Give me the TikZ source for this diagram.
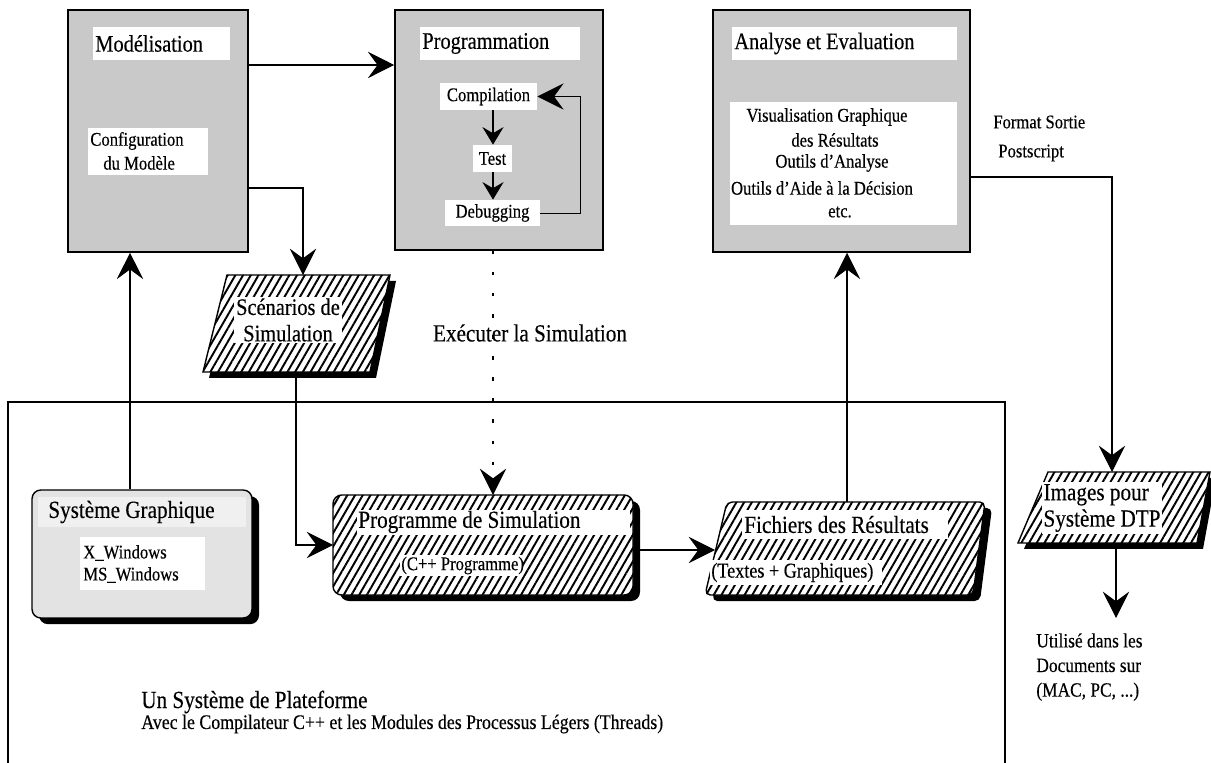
\documentclass[tikz,border=0pt]{standalone}
\usepackage{fontspec}
\setmainfont{Liberation Serif}[FakeStretch=0.86,FakeBold=0.3]
\usetikzlibrary{arrows.meta,patterns.meta,shadows}
\begin{document}
\begin{tikzpicture}[x=0.02cm,y=-0.02cm,
  f10/.style={font=\fontsize{11.8}{13}\selectfont, inner sep=0pt},
  f11/.style={font=\fontsize{11}{13}\selectfont, inner sep=0pt},
  f12/.style={font=\fontsize{12}{14}\selectfont, inner sep=0pt},
  f13/.style={font=\fontsize{13.5}{15}\selectfont, inner sep=0pt},
  f14/.style={font=\fontsize{14}{15}\selectfont, inner sep=0pt},
  gbox/.style={draw=black, line width=0.9pt, fill=gray!42, inner sep=0pt},
  wbox/.style={fill=white, inner sep=0pt, font=\fontsize{11}{13}\selectfont},
  shad/.style={drop shadow={opacity=1, fill=black, shadow xshift=4pt, shadow yshift=-3.5pt}},
  hatchfill/.style={draw=black, line width=0.8pt, preaction={fill=white}, pattern={Lines[angle=60,distance=3.8pt,line width=1.1pt]}},
  anch/.style={inner sep=0pt, outer sep=0pt},
  arr/.style={line width=0.6pt, -{Stealth[length=15pt,width=15pt,inset=5.5pt]}},
  sarr/.style={line width=0.6pt, -{Stealth[length=10pt,width=12pt,inset=3.5pt]}},
  dotarr/.style={line width=0.7pt, dash pattern=on 2pt off 10pt, -{Stealth[length=15pt,width=15pt,inset=5.5pt]}}
]
\useasboundingbox (0,0) rectangle (1211,763);

% helper coordinates
\coordinate (y65) at (0,65);
\coordinate (y188) at (0,188);
\coordinate (y177) at (0,177);
\coordinate (x130) at (130,0);
\coordinate (x296) at (296,0);
\coordinate (x303) at (303,0);
\coordinate (x493) at (493,0);
\coordinate (x580) at (580,0);
\coordinate (x847) at (847,0);
\coordinate (x1112) at (1112,0);
\coordinate (utiltip) at (1116,618);
\coordinate (fichL) at (715,550);

% platform frame
\draw[line width=0.7pt] (8,763) -- (8,402) -- (1005,402) -- (1005,763);

% Modelisation
\node[gbox, minimum width=3.6cm, minimum height=4.84cm] (mod) at (158,131) {};
\fill[white] (93,27) rectangle (230,60);
\node[f13, anchor=west] (modt) at (95,43.5) {Modélisation};
\fill[white] (88,128) rectangle (208,175);
\node[f11, anchor=west] (conf1) at (90,141) {Configuration};
\node[f11, anchor=west] (conf2) at (103,163) {du Modèle};

% Programmation
\node[gbox, minimum width=4.16cm, minimum height=4.8cm] (prog) at (499,130) {};
\fill[white] (420,27) rectangle (580,60);
\node[f13, anchor=west] (progt) at (422,43.5) {Programmation};
\node[wbox, minimum width=1.94cm, minimum height=0.54cm] (comp) at (488.5,96.5) {Compilation};
\node[wbox, minimum width=0.78cm, minimum height=0.54cm] (test) at (492.5,158.5) {Test};
\node[wbox, minimum width=1.9cm, minimum height=0.52cm] (debug) at (492.5,213) {Debugging};

% Analyse
\node[gbox, minimum width=5.14cm, minimum height=4.84cm] (ana) at (841.5,131) {};
\fill[white] (732,27) rectangle (957,60);
\node[f13, anchor=west] (anat) at (734,43.5) {Analyse et Evaluation};
\fill[white] (730,102) rectangle (957,225);
\node[f11] (a1) at (827,117) {Visualisation Graphique};
\node[f11] (a2) at (835,140) {des Résultats};
\node[f11] (a3) at (832,163) {Outils d'Analyse};
\node[f11] (a4) at (822,188) {Outils d'Aide à la Décision};
\node[f11] (a5) at (840,212) {etc.};

\node[f11, anchor=west] (fmt) at (993,122) {Format Sortie};
\node[f11, anchor=west] (ps) at (998,153) {Postscript};

% Scenarios
\fill[black, shift={(6,6)}] (227,275) -- (390,275) -- (370,372) -- (203,372) -- cycle;
\draw[hatchfill] (227,275) -- (390,275) -- (370,372) -- (203,372) -- cycle;
\node[anch, minimum width=3.74cm, minimum height=1.94cm] (scen) at (296.5,323.5) {};
\node[f13, fill=white, align=center, inner sep=1pt] (scent) at (288,320) {Scénarios de\\Simulation};

\node[f14] (exec) at (530,333) {Exécuter la Simulation};

% Systeme graphique
\node[draw=black, line width=0.8pt, rounded corners=5pt, fill=gray!22, inner sep=0pt, minimum width=4.4cm, minimum height=2.56cm, shad] (sysg) at (142,554) {};
\fill[white!88!gray] (38,497) rectangle (246,527);
\node[f14, anchor=west] (sysgt) at (48,512) {Système Graphique};
\fill[white] (80,537) rectangle (205,590);
\node[f11, anchor=west] (xw) at (83,553) {X\_Windows};
\node[f11, anchor=west] (msw) at (83,575) {MS\_Windows};

% Programme de simulation
\fill[black, rounded corners=5pt, shift={(7,6)}] (333,495) rectangle (633,595);
\draw[hatchfill, rounded corners=5pt] (333,495) rectangle (633,595);
\node[anch, minimum width=6cm, minimum height=2cm] (psim) at (483,545) {};
\fill[white] (357,510) rectangle (630,535);
\node[f14, anchor=west] (psimt) at (358,522) {Programme de Simulation};
\fill[white] (400,555) rectangle (522,576);
\node[f11, anchor=west] (psim2) at (401,565.5) {(C++ Programme)};

% Fichiers
\fill[black, rounded corners=3pt, shift={(7,6)}] (727,502) -- (985,502) -- (973,595) -- (705,595) -- cycle;
\draw[hatchfill, rounded corners=3pt] (727,502) -- (985,502) -- (973,595) -- (705,595) -- cycle;
\node[anch, minimum width=5.6cm, minimum height=1.86cm] (fich) at (845,548.5) {};
\fill[white] (742,510) rectangle (948,539);
\node[f14, anchor=west] (ficht) at (744,524.5) {Fichiers des Résultats};
\fill[white] (710,560) rectangle (882,585);
\node[f12, anchor=west] (fich2) at (711,572.5) {(Textes + Graphiques)};

% Images
\fill[black, shift={(6,6)}] (1048,472) -- (1210,472) -- (1197,543) -- (1018,543) -- cycle;
\draw[hatchfill] (1048,472) -- (1210,472) -- (1197,543) -- (1018,543) -- cycle;
\node[anch, minimum width=3.84cm, minimum height=1.42cm] (img) at (1114,507.5) {};
\node[f14, fill=white, align=left, inner sep=1pt] (imgt) at (1102,508) {Images pour\\Système DTP};

\node[anchor=north west, align=left, inner sep=0pt, font=\fontsize{11.5}{14}\selectfont] (util) at (1036,633) {Utilisé dans les\\Documents sur\\(MAC, PC, ...)};

% bottom texts
\node[f14, anchor=west] (plat) at (141,702) {Un Système de Plateforme};
\node[f10, anchor=west] (plat2) at (141,724) {Avec le Compilateur C++ et les Modules des Processus Légers (Threads)};

% connectors
\draw[arr] (mod.east |- y65) -- (prog.west |- y65);
\draw[arr] (mod.east |- y188) -| (scen.north -| x303);
\draw[arr] (sysg.north -| x130) -- (mod.south -| x130);
\draw[arr] (scen.south -| x296) |- (psim.west);
\draw[dotarr] (prog.south -| x493) -- (psim.north -| x493);
\draw[arr] (psim.east |- fichL) -- (fichL);
\draw[arr] (fich.north -| x847) -- (ana.south -| x847);
\draw[arr] (ana.east |- y177) -| (img.north -| x1112);
\draw[arr] (img.south -| utiltip) -- (utiltip);

\draw[sarr] (comp.south -| x493) -- (test.north -| x493);
\draw[sarr] (test.south -| x493) -- (debug.north -| x493);
\draw[arr, line width=0.5pt] (debug.east) -- (debug.east -| x580) |- (comp.east);
\end{tikzpicture}
\end{document}
